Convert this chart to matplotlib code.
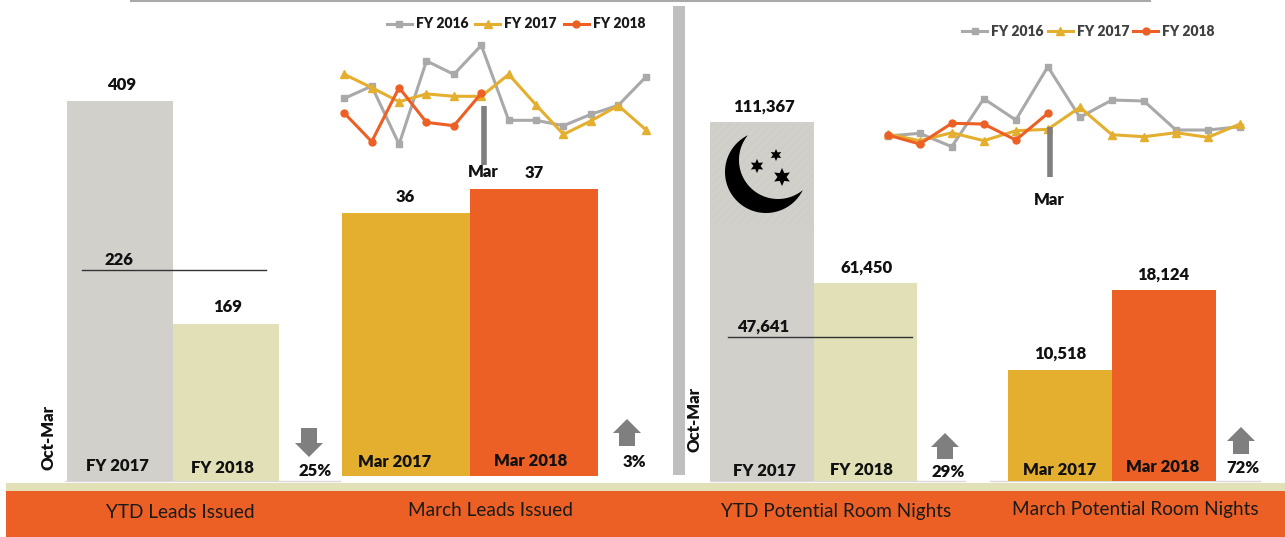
import numpy as np
import matplotlib
matplotlib.use("Agg")
import matplotlib.pyplot as plt
from matplotlib.patches import Polygon, Rectangle

W, H = 1285, 537

GRAY = "#D1D0CB"
KHAKI = "#E2E0B6"
GOLD = "#E4AF2F"
ORANGE = "#EC6026"
LINE_GRAY = "#A9A9A9"
ARROW = "#7F7F7F"
BOLD = "heavy"

# bars
ytd_leads = [409, 169]
mar_leads = [36, 37]
ytd_nights = [111367, 61450]
mar_nights = [10518, 18124]
ytd_labels = ["FY 2017", "FY 2018"]
mar_labels = ["Mar 2017", "Mar 2018"]

# monthly lines, left panel
leads_2016 = [35.3, 39.4, 20, 47.8, 43.3, 53, 28, 28, 26.2, 30, 33, 42.4]
leads_2017 = [43.3, 38.9, 34.2, 36.8, 36, 36, 43.3, 33.1, 23.3, 27.8, 32.9, 24.9]
leads_2018 = [30.4, 20.9, 38.9, 27.3, 26.2, 37]

# monthly lines, right panel
nights_2016 = [7336, 8618, 2253, 25053, 14935, 40253, 16218, 24435, 23961, 10186, 10186, 11753]
nights_2017 = [8285, 5103, 8903, 5103, 9853, 10518, 20968, 7953, 7003, 8903, 6718, 13035]
nights_2018 = [7811, 3535, 13368, 13035, 5436, 18124]

footer_labels = ["YTD Leads Issued", "March Leads Issued",
                 "YTD Potential Room Nights", "March Potential Room Nights"]

plt.rcParams["font.family"] = ["Lato", "DejaVu Sans"]

fig = plt.figure(figsize=(W / 100, H / 100), dpi=100, facecolor="white")


def pixel_axes(x0, y0, x1, y1, z=1):
    ax = fig.add_axes([x0 / W, 1 - y1 / H, (x1 - x0) / W, (y1 - y0) / H], zorder=z)
    ax.patch.set_alpha(0)
    ax.axis("off")
    return ax


# backdrop, in image pixels
bg = pixel_axes(0, 0, W, H, z=0)
bg.set_xlim(0, W)
bg.set_ylim(H, 0)

top = pixel_axes(0, 0, W, H, z=5)
top.set_xlim(0, W)
top.set_ylim(H, 0)

bg.plot([131, 1150], [0.5, 0.5], color=LINE_GRAY, lw=1.5)
bg.add_patch(Rectangle((673, 6), 12, 469, color="#BFBFBF", lw=0))
bg.add_patch(Rectangle((6, 483), 1279, 8, color=KHAKI, lw=0))
bg.add_patch(Rectangle((6, 491), 1279, 46, color=ORANGE, lw=0))
for x0, x1 in [(65, 340), (710, 965), (990, 1260)]:
    bg.plot([x0, x1], [481, 481], color="#D9D9D9", lw=1)

# bars
ax = pixel_axes(67, 60, 279, 481)
ax.bar([0, 1], ytd_leads, width=1, color=[GRAY, KHAKI])
ax.set_xlim(-0.5, 1.5)
ax.set_ylim(0, 409 * 421 / 380)

ax = pixel_axes(342, 189, 598, 476)
ax.bar([0, 1], mar_leads, width=1, color=[GOLD, ORANGE])
ax.set_xlim(-0.5, 1.5)
ax.set_ylim(25, 37)

ax = pixel_axes(710, 122, 917, 481)
ax.bar([0, 1], ytd_nights, width=1, color=[GRAY, KHAKI])
ax.set_xlim(-0.5, 1.5)
ax.set_ylim(0, 111367)

ax = pixel_axes(1008, 290, 1216, 481)
ax.bar([0, 1], mar_nights, width=1, color=[GOLD, ORANGE])
ax.set_xlim(-0.5, 1.5)
ax.set_ylim(0, 18124)

# moon picture on the first night bar
top.add_patch(Rectangle((710, 122), 103, 103, facecolor="#CFCEC9", edgecolor="#D3D2CD",
                        hatch="////", lw=0, zorder=1))
a1 = np.radians(np.linspace(26.6, 244, 80))
a2 = np.radians(np.linspace(220, 51.3, 80))
moon = np.vstack([np.c_[766 + 41 * np.cos(a1), 172 + 41 * np.sin(a1)],
                  np.c_[778 + 39 * np.cos(a2), 160 + 39 * np.sin(a2)]])
top.add_patch(Polygon(moon, closed=True, color="black", lw=0, zorder=2))
top.scatter([757, 776, 782], [166, 155, 177], s=[105, 75, 170], marker=(6, 1, 0),
            color="black", lw=0, zorder=3)


# line panels
def line_panel(rect, xfirst, step, s16, s17, s18, y_per_px, v_ref, y_ref, ms,
               legend_at, legend_color, colspace):
    x0, y0, x1, y1 = rect
    ax = pixel_axes(x0, y0, x1, y1, z=3)
    ax.plot(range(12), s16, color=LINE_GRAY, lw=2.2, marker="s", ms=ms, label="FY 2016")
    ax.plot(range(12), s17, color=GOLD, lw=2.2, marker="^", ms=ms + 1, label="FY 2017")
    ax.plot(range(6), s18, color=ORANGE, lw=2.2, marker="o", ms=ms, label="FY 2018")
    ax.set_xlim((x0 - xfirst) / step, (x1 - xfirst) / step)
    ax.set_ylim(v_ref + (y_ref - y1) * y_per_px, v_ref + (y_ref - y0) * y_per_px)
    leg = ax.legend(loc="center", bbox_to_anchor=((legend_at[0] - x0) / (x1 - x0),
                                                 (y1 - legend_at[1]) / (y1 - y0)),
                    ncol=3, frameon=False, handlelength=1.8, handletextpad=0.29,
                    columnspacing=colspace, borderpad=0, prop={"weight": BOLD, "size": 10})
    for t in leg.get_texts():
        t.set_color(legend_color)
    return ax


line_panel((330, 30, 660, 160), 344.3, 27.4, leads_2016, leads_2017, leads_2018,
           1 / 3, 37, 93.3, 5, (516, 24), "#1A1A1A", 0.5)
line_panel((875, 40, 1255, 160), 887.7, 32.03, nights_2016, nights_2017, nights_2018,
           475, 18124, 113.3, 5, (1088.5, 31), "#404040", 0.29)

# March markers
top.plot([484, 484], [106, 165], color=ARROW, lw=4, solid_capstyle="butt")
top.plot([1050, 1050], [127, 177], color=ARROW, lw=4, solid_capstyle="butt")


def label(x, y, s, size=12, weight=BOLD, color="#111111", **kw):
    top.text(x, y + 1, s, ha="center", va="center", fontsize=size, fontweight=weight,
             color=color, zorder=6, **kw)


label(483, 171, "Mar")
label(1049, 199, "Mar")

# value labels
label(122, 84, f"{ytd_leads[0]}")
label(228, 306, f"{ytd_leads[1]}")
label(405, 196, f"{mar_leads[0]}")
label(534, 172, f"{mar_leads[1]}")
label(764, 106, f"{ytd_nights[0]:,}")
label(867, 267, f"{ytd_nights[1]:,}")
label(1060, 353, f"{mar_nights[0]:,}")
label(1163, 274, f"{mar_nights[1]:,}")

# prior year reference lines
top.plot([82, 266], [270, 270], color="#333333", lw=1)
top.plot([728, 912], [337, 337], color="#333333", lw=1)
label(119, 259, "226")
label(763, 326, "47,641")

# category labels
label(117, 465, ytd_labels[0])
label(222, 467, ytd_labels[1])
label(395, 461, mar_labels[0])
label(531, 460, mar_labels[1])
label(764, 470, ytd_labels[0])
label(861, 469, ytd_labels[1])
label(1060, 469, mar_labels[0])
label(1163, 466, mar_labels[1])

label(48, 437, "Oct-Mar", rotation=90)
label(695, 418, "Oct-Mar", rotation=90)

# change arrows
def arrow(xc, y0, y1, up):
    head = 14
    hw, sw = 14, 8
    if up:
        pts = [(xc, y0), (xc + hw, y0 + head), (xc + sw, y0 + head), (xc + sw, y1),
               (xc - sw, y1), (xc - sw, y0 + head), (xc - hw, y0 + head)]
    else:
        pts = [(xc, y1), (xc + hw, y1 - head), (xc + sw, y1 - head), (xc + sw, y0),
               (xc - sw, y0), (xc - sw, y1 - head), (xc - hw, y1 - head)]
    top.add_patch(Polygon(pts, closed=True, color=ARROW, lw=0))


arrow(309, 428, 457, False)
arrow(627, 419, 446, True)
arrow(945, 433, 459, True)
arrow(1241, 427, 454, True)

label(315, 470, "25%")
label(634, 461, "3%")
label(948, 471, "29%")
label(1243, 467, "72%")

# footer
for x, y, s in zip([180, 491, 836, 1135], [512, 509, 511, 509], footer_labels):
    label(x, y, s, size=13.7, weight="normal", color="#1A1A1A")

fig.savefig("out.png", dpi=100)
